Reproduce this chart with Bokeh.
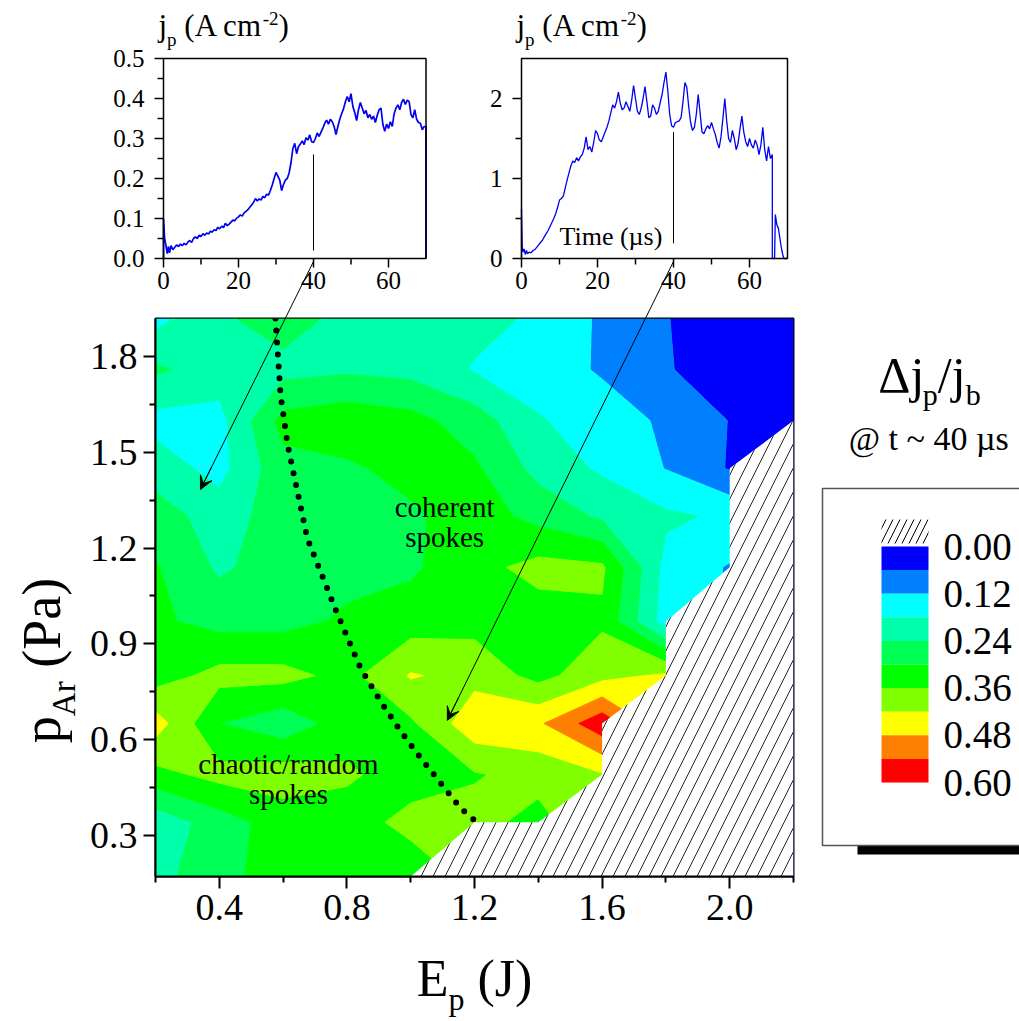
import numpy as np
from bokeh.plotting import figure
from bokeh.models import Range1d, FixedTicker, PrintfTickFormatter, Arrow, VeeHead
from bokeh.core.properties import value
from bokeh.embed import file_html
from bokeh.resources import INLINE

# ---------------------------------------------------------------- data
nan = float("nan")

# map of the relative current fluctuation  dj_p / j_b  at t ~ 40 us
energy = [0.2, 0.4, 0.6, 0.8, 1.0, 1.2, 1.4, 1.6, 1.8, 2.0, 2.2]          # E_p (J)
pressure = [0.17, 0.34, 0.49, 0.65, 0.80, 0.97, 1.14, 1.30, 1.45, 1.60, 1.76, 1.92]  # p_Ar (Pa)
# one row per pressure (bottom to top); nan = no stable discharge
dj_rel = [
    [0.22, 0.28, 0.33, 0.33, 0.32, nan, nan, nan, nan, nan, nan],
    [0.20, 0.27, 0.33, 0.33, 0.38, 0.38, 0.34, nan, nan, nan, nan],
    [0.34, 0.38, 0.39, 0.37, 0.33, 0.355, 0.38, 0.415, nan, nan, nan],
    [0.45, 0.30, 0.26, 0.33, 0.35, 0.46, 0.47, 0.58, nan, nan, nan],
    [0.33, 0.38, 0.38, 0.34, 0.425, 0.40, 0.34, 0.40, 0.43, nan, nan],
    [0.31, 0.28, 0.28, 0.31, 0.33, 0.34, 0.33, 0.35, 0.15, nan, nan],
    [0.305, 0.23, 0.27, 0.28, 0.29, 0.34, 0.38, 0.37, 0.16, 0.115, nan],
    [0.27, 0.21, 0.27, 0.28, 0.29, 0.33, 0.28, 0.23, 0.19, 0.17, nan],
    [0.21, 0.16, 0.28, 0.29, 0.32, 0.31, 0.22, 0.17, 0.118, 0.055, nan],
    [0.16, 0.16, 0.32, 0.34, 0.32, 0.27, 0.185, 0.15, 0.11, 0.058, 0.03],
    [0.25, 0.21, 0.22, 0.23, 0.22, 0.175, 0.15, 0.113, 0.063, 0.04, 0.02],
    [0.16, 0.23, 0.27, 0.22, 0.21, 0.20, 0.17, 0.11, 0.062, 0.03, 0.02],
]
levels = [0.00, 0.06, 0.12, 0.18, 0.24, 0.30, 0.36, 0.42, 0.48, 0.54, 0.60]
level_colors = ["#0000ff", "#0080ff", "#00ffff", "#00ffaa", "#00ff55",
                "#00ff00", "#80ff00", "#ffff00", "#ff8000", "#ff0000"]

# edge of the operating window (hatched beyond)
limit_energy = [1.0, 1.2, 1.4, 1.6, 1.6, 1.8, 1.8, 2.0, 2.0, 2.2]
limit_pressure = [0.17, 0.34, 0.34, 0.49, 0.65, 0.80, 0.97, 1.14, 1.45, 1.60]

# border between chaotic and coherent spoke regimes
border_energy = [0.576, 0.592, 0.614, 0.645, 0.676, 0.717, 0.764, 0.843,
                 0.905, 0.968, 1.031, 1.093, 1.156, 1.209]
border_pressure = [1.92, 1.681, 1.525, 1.377, 1.230, 1.127, 1.008, 0.823,
                   0.720, 0.626, 0.542, 0.464, 0.385, 0.338]

e_ticks = [0.4, 0.8, 1.2, 1.6, 2.0]
e_minor = [0.2, 0.6, 1.0, 1.4, 1.8, 2.2]
p_ticks = [0.3, 0.6, 0.9, 1.2, 1.5, 1.8]
p_minor = [0.45, 0.75, 1.05, 1.35, 1.65]

# probe current density traces (time in us, j_p in A/cm2)
trace1_t = [0.0, 0.0, 0.3, 0.6, 1.0, 1.3, 1.6, 2.0, 2.5,
            3.0, 3.5, 4.0, 4.5, 5.0, 5.5, 6.0, 6.5, 7.0, 7.5, 8.0, 8.5, 9.0, 9.5,
            10.0, 10.5, 11.0, 11.5, 12.0, 12.5, 13.0, 13.5, 14.0, 14.5,
            15.0, 15.5, 16.0, 16.5, 17.0, 17.5, 18.0, 18.5, 19.0, 19.5,
            20.0, 20.5, 21.0, 21.5, 22.0, 22.5, 23.0, 23.5, 24.0, 24.5,
            25.0, 25.5, 26.0, 26.5, 27.0, 27.5, 28.0, 28.5, 29.0, 29.5,
            30.0, 30.5, 31.0, 31.5, 32.0, 32.5, 33.0, 33.5, 34.0, 34.5,
            35.0, 35.5, 36.0, 36.5, 37.0, 37.5, 38.0, 38.5, 39.0, 39.5,
            40.0, 40.5, 41.0, 41.5, 42.0, 42.5, 43.0, 43.5, 44.0, 44.5,
            45.0, 45.5, 46.0, 46.5, 47.0, 47.5, 48.0, 48.5, 49.0, 49.5,
            50.0, 50.5, 51.0, 51.5, 52.0, 52.5, 53.0, 53.5, 54.0, 54.5,
            55.0, 55.5, 56.0, 56.5, 57.0, 57.5, 58.0, 58.5, 59.0, 59.5,
            60.0, 60.5, 61.0, 61.5, 62.0, 62.5, 63.0, 63.5, 64.0, 64.5,
            65.0, 65.5, 66.0, 66.5, 67.0, 67.5, 68.0, 68.5, 69.0, 69.5,
            70.0, 70.0]
trace1_j = [0.0, 0.10, 0.05, 0.035, 0.012, 0.030, 0.014, 0.032, 0.022,
            0.028, 0.034, 0.030, 0.036, 0.032, 0.038, 0.034, 0.041, 0.045, 0.040, 0.050, 0.054, 0.050, 0.058,
            0.055, 0.062, 0.058, 0.064, 0.061, 0.068, 0.066, 0.072, 0.070, 0.078,
            0.074, 0.081, 0.077, 0.088, 0.082, 0.086, 0.091, 0.096, 0.094, 0.101,
            0.104, 0.109, 0.106, 0.114, 0.118, 0.122, 0.128, 0.134, 0.140, 0.150,
            0.144, 0.149, 0.146, 0.155, 0.152, 0.161, 0.158, 0.170, 0.184, 0.200,
            0.215, 0.206, 0.196, 0.170, 0.185, 0.196, 0.200, 0.214, 0.240, 0.275,
            0.288, 0.262, 0.280, 0.286, 0.294, 0.285, 0.302, 0.296, 0.309, 0.292,
            0.290, 0.300, 0.314, 0.305, 0.316, 0.326, 0.338, 0.346, 0.336, 0.348,
            0.342, 0.330, 0.310, 0.330, 0.348, 0.362, 0.374, 0.392, 0.405, 0.392,
            0.412, 0.380, 0.365, 0.345, 0.372, 0.390, 0.376, 0.362, 0.370, 0.352,
            0.360, 0.348, 0.356, 0.340, 0.358, 0.372, 0.376, 0.335, 0.318, 0.336,
            0.325, 0.342, 0.330, 0.362, 0.376, 0.384, 0.372, 0.390, 0.398, 0.385,
            0.396, 0.392, 0.360, 0.352, 0.372, 0.348, 0.340, 0.338, 0.322, 0.330,
            0.330, 0.0]

trace2_t = [0.0, 0.0, 0.2, 0.4, 0.7, 1.0, 1.3, 1.6, 2.0, 2.5,
            3.0, 3.5, 4.0, 4.5, 5.0, 5.5, 6.0, 6.5, 7.0, 7.5, 8.0, 8.5, 9.0, 9.5,
            10.0, 10.5, 11.0, 11.5, 12.0, 12.5, 13.0, 13.5, 14.0, 14.5,
            15.0, 15.5, 16.0, 16.5, 17.0, 17.5, 18.0, 18.5, 19.0, 19.5,
            20.0, 20.5, 21.0, 21.5, 22.0, 22.5, 23.0, 23.5, 24.0, 24.5,
            25.0, 25.5, 26.0, 26.5, 27.0, 27.5, 28.0, 28.5, 29.0, 29.5,
            30.0, 30.5, 31.0, 31.5, 32.0, 32.5, 33.0, 33.5, 34.0, 34.5,
            35.0, 35.5, 36.0, 36.5, 37.0, 37.5, 38.0, 38.5, 39.0, 39.5,
            40.0, 40.5, 41.0, 41.5, 42.0, 42.5, 43.0, 43.5, 44.0, 44.5,
            45.0, 45.5, 46.0, 46.5, 47.0, 47.5, 48.0, 48.5, 49.0, 49.5,
            50.0, 50.5, 51.0, 51.5, 52.0, 52.5, 53.0, 53.5, 54.0, 54.5,
            55.0, 55.5, 56.0, 56.5, 57.0, 57.5, 58.0, 58.5, 59.0, 59.5,
            60.0, 60.5, 61.0, 61.5, 62.0, 62.5, 63.0, 63.5, 64.0, 64.5,
            65.0, 65.5, 66.0, 66.0, 66.6, 66.8, 67.2, 67.6, 68.0, 68.5, 69.0, 70.0]
trace2_j = [0.0, 0.62, 0.15, 0.08, 0.12, 0.05, 0.10, 0.06, 0.08, 0.07,
            0.10, 0.11, 0.14, 0.17, 0.20, 0.23, 0.27, 0.31, 0.35, 0.40, 0.45, 0.50, 0.56, 0.64,
            0.73, 0.75, 0.78, 0.88, 0.98, 1.07, 1.16, 1.22, 1.20, 1.26,
            1.22, 1.27, 1.30, 1.38, 1.52, 1.36, 1.40, 1.33, 1.45, 1.60,
            1.56, 1.48, 1.46, 1.52, 1.58, 1.64, 1.72, 1.82, 1.92, 1.88,
            1.96, 2.08, 1.94, 1.86, 1.88, 1.96, 1.90, 1.84, 1.98, 2.16,
            2.00, 1.84, 1.80, 1.88, 2.00, 2.15, 1.96, 1.76, 1.78, 1.92,
            1.88, 1.80, 1.84, 1.95, 2.05, 2.20, 2.33, 2.10, 1.80, 1.66,
            1.64, 1.70, 1.71, 1.72, 1.76, 1.96, 2.20, 2.14, 1.90, 1.70,
            1.60, 1.64, 1.80, 2.05, 1.82, 1.58, 1.56, 1.62, 1.66, 1.62,
            1.70, 1.62, 1.55, 1.45, 1.38, 1.52, 1.75, 2.00, 1.72, 1.50,
            1.45, 1.60, 1.50, 1.36, 1.44, 1.62, 1.78, 1.58, 1.46, 1.40,
            1.50, 1.42, 1.38, 1.48, 1.42, 1.30, 1.42, 1.64, 1.36, 1.22,
            1.40, 1.25, 1.30, 0.0, 0.0, 0.55, 0.42, 0.38, 0.25, 0.10, 0.0, 0.0]

t_max = 70
sample_t = 40                      # time of the map
marker1 = (0.02, 0.26)             # vertical marker extent on each trace
marker2 = (0.19, 1.58)
target1 = (0.341, 1.384)           # (E_p, p_Ar) each trace belongs to
target2 = (1.115, 0.660)

# ---------------------------------------------------------------- canvas
W, H = 1019, 1021
FL, FR, FT, FB = 155, 793, 318, 876         # frame of the map in page pixels
E_RANGE = (0.2, 2.2)
P_RANGE = (0.17, 1.92)
FONT = value("Liberation Serif")
BASE_SHIFT = 0.42                             # alphabetic-baseline correction (em)

p = figure(width=W, height=H, x_range=Range1d(*E_RANGE), y_range=Range1d(*P_RANGE),
           output_backend="svg", toolbar_location=None,
           min_border_left=FL, min_border_right=W - FR,
           min_border_top=FT, min_border_bottom=H - FB)
p.background_fill_color = "white"
p.border_fill_color = "white"
p.xgrid.visible = False
p.ygrid.visible = False
p.outline_line_color = "black"
p.outline_line_width = 2


def xr(v0, x0, v1, x1):
    """x range whose value v0 lands at page pixel x0 and v1 at x1."""
    k = (x1 - x0) / (v1 - v0)
    return Range1d(v0 + (FL - x0) / k, v0 + (FR - x0) / k)


def yr(v0, y0, v1, y1):
    """y range whose value v0 lands at page pixel y0 and v1 at y1."""
    k = (y0 - y1) / (v1 - v0)
    return Range1d(v0 - (FB - y0) / k, v0 - (FT - y0) / k)


def page_x(E):
    return FL + (E - E_RANGE[0]) * (FR - FL) / (E_RANGE[1] - E_RANGE[0])


def page_y(P):
    return FB - (P - P_RANGE[0]) * (FB - FT) / (P_RANGE[1] - P_RANGE[0])


def E_at(x):
    return E_RANGE[0] + (x - FL) * (E_RANGE[1] - E_RANGE[0]) / (FR - FL)


def P_at(y):
    return P_RANGE[0] + (FB - y) * (P_RANGE[1] - P_RANGE[0]) / (FB - FT)


# page coordinates (pixels, y downward)
p.extra_x_ranges["px"] = xr(0, 0, 1, 1)
p.extra_y_ranges["py"] = yr(0, 0, 1, 1)
PAGE = dict(x_range_name="px", y_range_name="py", level="overlay")

# Times metrics (Liberation Serif shares them) for placing sub/superscripts
ADV = {" ": .25, "(": .333, ")": .333, "/": .278, "-": .333, ".": .25, "~": .541,
       "@": .921, "A": .722, "E": .611, "J": .389, "P": .556, "T": .611, "Δ": .612,
       "µ": .5, "a": .444, "b": .5, "c": .444, "d": .5, "e": .444, "h": .5,
       "i": .278, "j": .278, "k": .5, "m": .778, "n": .5, "o": .5, "p": .5,
       "r": .333, "s": .389, "t": .278}


def adv(s, size):
    return sum(ADV.get(c, 0.5) for c in s) * size


def rich(parts, x, y, align="left", angle=0.0):
    total = sum(adv(t, s) for t, s, _ in parts)
    pos = -total / 2 if align == "center" else 0.0
    for txt, size, rise in parts:
        lead = len(txt) - len(txt.lstrip(" "))
        pos += adv(" " * lead, size)
        body = txt.strip(" ")
        lift = rise + BASE_SHIFT * size
        common = dict(text=[body], text_font=FONT, text_font_size=value(f"{size}px"),
                      text_color="black", text_align="left", text_baseline="alphabetic", **PAGE)
        if angle == 0:
            p.text(x=[x + pos], y=[y], y_offset=-lift, **common)
        else:
            p.text(x=[x], y=[y - pos], x_offset=-lift, angle=angle, **common)
        pos += adv(body, size)


# ---------------------------------------------------------------- map
Z = np.array(dj_rel, dtype=float)
for i in range(len(pressure) - 2, -1, -1):      # carry last measured value under the hatch
    Z[i] = np.where(np.isnan(Z[i]), Z[i + 1], Z[i])
Z = np.where(np.isnan(Z), 0.3, Z)

line_cols = [level_colors[min(k, len(level_colors) - 1)] for k in range(len(levels))]
p.contour(energy, pressure, Z, levels=levels, fill_color=level_colors,
          line_color=line_cols, line_width=1)

hatch_x = limit_energy + [E_RANGE[1]]
hatch_y = limit_pressure + [P_RANGE[0]]
p.patch(hatch_x, hatch_y, fill_color="white", line_color=None,
        hatch_pattern="/", hatch_scale=24, hatch_weight=1, hatch_color="#222222")

p.line(border_energy, border_pressure, line_color="black", line_width=6,
       line_dash="0 12", line_cap="round")

rich([("coherent", 29, 0)], (page_x(1.0) + page_x(1.2)) / 2 + 2, 519, align="center")
rich([("spokes", 29, 0)], (page_x(1.0) + page_x(1.2)) / 2 + 2, 549, align="center")
rich([("chaotic/random", 29, 0)], 288, 776, align="center")
rich([("spokes", 29, 0)], 288, 806, align="center")

# axes of the map
p.xaxis.ticker = FixedTicker(ticks=e_ticks, minor_ticks=e_minor)
p.yaxis.ticker = FixedTicker(ticks=p_ticks, minor_ticks=p_minor)
p.xaxis.formatter = PrintfTickFormatter(format="%.1f")
p.yaxis.formatter = PrintfTickFormatter(format="%.1f")
for ax in (p.xaxis[0], p.yaxis[0]):
    ax.axis_line_width = 2
    ax.axis_line_color = "black"
    ax.major_tick_line_width = 2
    ax.minor_tick_line_width = 2
    ax.major_tick_line_color = "black"
    ax.minor_tick_line_color = "black"
    ax.major_tick_in = 0
    ax.minor_tick_in = 0
    ax.major_tick_out = 12
    ax.minor_tick_out = 6
    ax.major_label_text_font = "Liberation Serif"
    ax.major_label_text_font_size = "38px"
    ax.major_label_text_color = "black"
    ax.major_label_standoff = 6

rich([("E", 52, 0), ("p", 32, -12), (" (J)", 52, 0)], (FL + FR) / 2, 1000, align="center")
rich([("p", 54, 0), ("Ar", 33, -13), (" (Pa)", 54, 0)], 64, 660, align="center", angle=np.pi / 2)


# ---------------------------------------------------------------- insets
def inset(key, t, j, x0, x1, y0, y1, jtop, jticks, jminor, jfmt, marker, target, lw):
    xn, yn = key + "_t", key + "_j"
    p.extra_x_ranges[xn] = xr(0, x0, t_max, x1)
    p.extra_y_ranges[yn] = yr(0, y0, jtop, y1)
    kw = dict(x_range_name=xn, y_range_name=yn, level="overlay")
    p.line(t, j, line_color="#0000f0", line_width=lw, **kw)
    p.line([0, t_max, t_max, 0, 0], [0, 0, jtop, jtop, 0], line_color="black", line_width=1.5, **kw)
    tt, tm = [0, 20, 40, 60], [10, 30, 50]
    p.ray(x=tt, y=[0] * len(tt), length=9, length_units="screen", angle=-np.pi / 2,
          line_color="black", line_width=1.5, **kw)
    p.ray(x=tm, y=[0] * len(tm), length=6, length_units="screen", angle=-np.pi / 2,
          line_color="black", line_width=1.5, **kw)
    p.ray(x=[0] * len(jticks), y=jticks, length=9, length_units="screen", angle=np.pi,
          line_color="black", line_width=1.5, **kw)
    p.ray(x=[0] * len(jminor), y=jminor, length=6, length_units="screen", angle=np.pi,
          line_color="black", line_width=1.5, **kw)
    p.text(x=tt, y=[0] * len(tt), text=[str(v) for v in tt], y_offset=13,
           text_align="center", text_baseline="top", text_font=FONT,
           text_font_size=value("25px"), text_color="black", **kw)
    p.text(x=[0] * len(jticks), y=jticks, text=[jfmt % v for v in jticks], x_offset=-19,
           text_align="right", text_baseline="middle", text_font=FONT,
           text_font_size=value("25px"), text_color="black", **kw)
    p.segment(x0=[sample_t], y0=[marker[0]], x1=[sample_t], y1=[marker[1]],
              line_color="black", line_width=1, **kw)
    # arrow from the sampling instant down to its point of the map
    sx, sy = x0 + sample_t * (x1 - x0) / t_max, y0 + 3
    ex, ey = page_x(target[0]), page_y(target[1])
    p.segment(x0=[sx], y0=[sy], x1=[ex], y1=[ey], line_color="black", line_width=1, **PAGE)
    L = np.hypot(ex - sx, ey - sy)
    bx, by = ex - (ex - sx) / L * 25, ey - (ey - sy) / L * 25
    p.add_layout(Arrow(end=VeeHead(size=13, fill_color="black", line_color="black", line_width=1),
                       x_start=E_at(bx), y_start=P_at(by), x_end=target[0], y_end=target[1],
                       line_color="black", line_width=1))
    rich([("j", 31, 0), ("p", 19, -9), (" (A cm", 31, 0), ("-2", 19, 12), (")", 31, 0)],
         x0 - 5, 38)


inset("a", trace1_t, trace1_j, 163, 425.5, 258, 58, 0.5,
      [0.0, 0.1, 0.2, 0.3, 0.4, 0.5], [0.05, 0.15, 0.25, 0.35, 0.45], "%.1f", marker1, target1, 1.7)
inset("b", trace2_t, trace2_j, 521, 787, 258, 58, 2.5,
      [0, 1, 2], [0.5, 1.5], "%d", marker2, target2, 1.3)
rich([("Time (µs)", 26, 0)], 559, 247)

# ---------------------------------------------------------------- colour key
p.extra_y_ranges["lev"] = yr(levels[0], 546, levels[-1], 782)
rich([("Δj", 50, 0), ("p", 30, -12), ("/j", 50, 0), ("b", 30, -12)], 929, 395, align="center")
rich([("@ t ~ 40 µs", 34, 0)], 927, 452, align="center")
p.quad(left=[857], right=[1040], top=[497], bottom=[854], fill_color="black", line_color=None, **PAGE)
p.quad(left=[822], right=[1040], top=[488], bottom=[845], fill_color="white",
       line_color="#555555", line_width=1.5, **PAGE)
p.quad(left=[881], right=[928], top=[519], bottom=[543], fill_color="white", line_color=None,
       hatch_pattern="/", hatch_scale=14, hatch_weight=1, hatch_color="black", **PAGE)
p.quad(left=[881] * len(level_colors), right=[928] * len(level_colors),
       top=levels[:-1], bottom=levels[1:], fill_color=level_colors, line_color=None,
       x_range_name="px", y_range_name="lev", level="overlay")
key_levels = levels[::2]
p.text(x=[943] * len(key_levels), y=key_levels, text=["%.2f" % v for v in key_levels],
       text_font=FONT, text_font_size=value("39px"), text_color="black",
       text_align="left", text_baseline="middle",
       x_range_name="px", y_range_name="lev", level="overlay")

open("out.html", "w").write(file_html(p, INLINE))
